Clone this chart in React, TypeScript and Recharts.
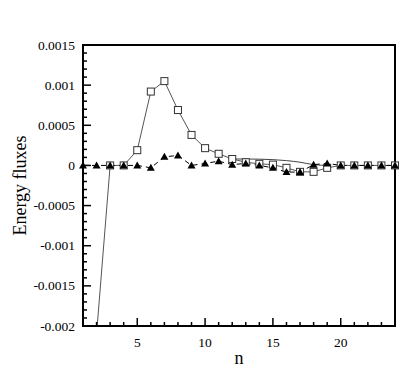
import { Line, LineChart, ReferenceArea, XAxis, YAxis } from "recharts";

const modes = [1, 2, 3, 4, 5, 6, 7, 8, 9, 10, 11, 12, 13, 14, 15, 16, 17, 18, 19, 20, 21, 22, 23, 24];

// open squares, solid line
const squareFlux = [
  -0.0021, -0.0021, 0, 0, 0.00019, 0.00092, 0.00105, 0.00069, 0.00038, 0.000215, 0.000145, 0.00008,
  0.00004, 0.00002, 0.00001, -0.00003, -0.00008, -0.00008, -0.00003, 0, 0, 0, 0, 0,
];

// filled triangles, dashed line
const triangleFlux = [
  0, 0, 0, 0, 0, -0.00003, 0.000107, 0.000124, 0, 0.000025, 0.000053, 0.00001,
  0.000025, 0, -0.00003, -0.000083, -0.000083, 0.00001, 0.000025, 0, 0, 0, 0, 0,
];

// smooth solid curve above the square tail (n = 12..19)
const splineTail = [
  null, null, null, null, null, null, null, null, null, null, null, 0.00008,
  0.00008, 0.000078, 0.000072, 0.00006, 0.00004, 0.00001, 0, null, null, null, null, null,
];

const xMajorTicks = [5, 10, 15, 20];
const xTickLabels = ["5", "10", "15", "20"];
const yMajorTicks = [-0.002, -0.0015, -0.001, -0.0005, 0, 0.0005, 0.001, 0.0015];
const yTickLabels = ["-0.002", "-0.0015", "-0.001", "-0.0005", "0", "0.0005", "0.001", "0.0015"];

const yAllTicks: number[] = [];
for (let i = -20; i <= 15; i++) yAllTicks.push(i / 10000);

const data = modes.map((n, i) => ({
  n,
  sq: squareFlux[i],
  tri: triangleFlux[i],
  tail: splineTail[i],
}));

const FONT = "Liberation Serif, serif";

function yLabelFor(v: number) {
  const idx = yMajorTicks.findIndex((t) => Math.abs(t - v) < 1e-9);
  return idx >= 0 ? yTickLabels[idx] : null;
}

function YTick(props: any) {
  const { x, y, payload } = props;
  const label = yLabelFor(payload.value);
  const len = label !== null ? 8 : 4;
  return (
    <g>
      <line x1={x} x2={x + len} y1={y} y2={y} stroke="#000" strokeWidth={1.5} />
      {label !== null && (
        <text x={x - 8} y={y} dy={4.5} textAnchor="end" fontFamily={FONT} fontSize={13.5} fill="#000">
          {label}
        </text>
      )}
    </g>
  );
}

function XTick(props: any) {
  const { x, y, payload } = props;
  const idx = xMajorTicks.indexOf(payload.value);
  const len = idx >= 0 ? 8 : 4;
  return (
    <g>
      <line x1={x} x2={x} y1={y} y2={y - len} stroke="#000" strokeWidth={1.5} />
      {idx >= 0 && (
        <text x={x} y={y + 21} textAnchor="middle" fontFamily={FONT} fontSize={13.5} fill="#000">
          {xTickLabels[idx]}
        </text>
      )}
    </g>
  );
}

function SquareDot(props: any) {
  const { cx, cy, index } = props;
  if (cx == null || cy == null) return <g key={`s${index}`} />;
  return (
    <rect key={`s${index}`} x={cx - 3.5} y={cy - 3.5} width={7} height={7} fill="#fff" stroke="#333" strokeWidth={1} />
  );
}

function TriangleDot(props: any) {
  const { cx, cy, index } = props;
  if (cx == null || cy == null) return <g key={`t${index}`} />;
  return (
    <polygon key={`t${index}`} points={`${cx},${cy - 4} ${cx - 4},${cy + 3} ${cx + 4},${cy + 3}`} fill="#000" />
  );
}

export default function App() {
  return (
    <div style={{ position: "absolute", left: 0, top: 0, width: 415, height: 369, background: "#fff" }}>
      <LineChart width={415} height={369} data={data} margin={{ top: 45, right: 20, bottom: 0, left: 0 }}>
        <XAxis
          dataKey="n"
          type="number"
          domain={[1, 24]}
          ticks={modes}
          interval={0}
          height={43}
          tickSize={0}
          tickMargin={0}
          tick={<XTick />}
          axisLine={{ stroke: "#000", strokeWidth: 2 }}
          label={{ value: "n", position: "insideBottom", offset: 5, fontFamily: FONT, fontSize: 18, fill: "#000" }}
        />
        <YAxis
          type="number"
          domain={[-0.002, 0.0015]}
          allowDataOverflow
          ticks={yAllTicks}
          interval={0}
          width={83}
          tickSize={0}
          tickMargin={0}
          tick={<YTick />}
          axisLine={{ stroke: "#000", strokeWidth: 2 }}
          label={{
            value: "Energy fluxes",
            angle: -90,
            position: "insideLeft",
            offset: 20,
            style: { textAnchor: "middle" },
            fontFamily: FONT,
            fontSize: 18,
            fill: "#000",
          }}
        />
        <ReferenceArea x1={1} x2={24} y1={-0.002} y2={0.0015} fill="none" stroke="#000" strokeWidth={2} />
        <Line
          dataKey="tail"
          type="monotone"
          stroke="#444"
          strokeWidth={1}
          dot={false}
          activeDot={false}
          connectNulls={false}
          isAnimationActive={false}
        />
        <Line
          dataKey="sq"
          type="linear"
          stroke="#555"
          strokeWidth={1}
          dot={<SquareDot />}
          activeDot={false}
          isAnimationActive={false}
        />
        <Line
          dataKey="tri"
          type="linear"
          stroke="#000"
          strokeWidth={1}
          strokeDasharray="5 4"
          dot={<TriangleDot />}
          activeDot={false}
          isAnimationActive={false}
        />
      </LineChart>
    </div>
  );
}
